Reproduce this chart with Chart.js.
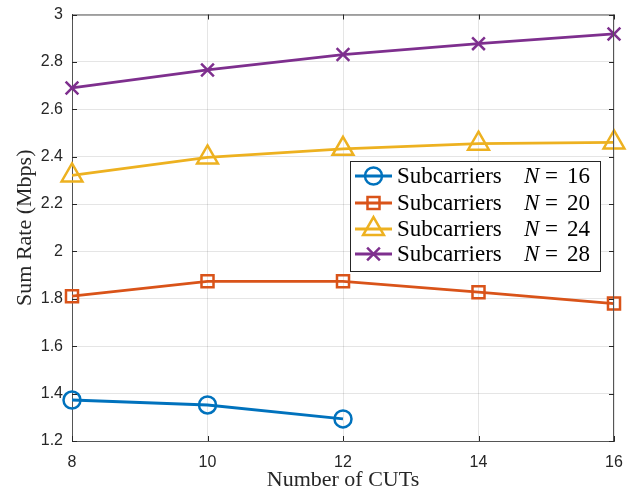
<!DOCTYPE html>
<html>
<head>
<meta charset="utf-8">
<script src="https://cdn.jsdelivr.net/npm/chart.js@4/dist/chart.umd.min.js"></script>
<style>
  html, body { margin: 0; padding: 0; background: #fff; }
  #wrap { width: 634px; height: 491px; }
</style>
</head>
<body>
<div id="wrap"><canvas id="c" width="634" height="491"></canvas></div>
<script>
// data
const cuts = [8, 10, 12, 14, 16];
const subcarriers = [16, 20, 24, 28];
const rateN16 = [1.373, 1.352, 1.293];
const rateN20 = [1.811, 1.874, 1.874, 1.828, 1.780];
const rateN24 = [2.321, 2.397, 2.433, 2.455, 2.460];
const rateN28 = [2.690, 2.766, 2.831, 2.877, 2.918];
const yTicks = [1.2, 1.4, 1.6, 1.8, 2, 2.2, 2.4, 2.6, 2.8, 3];

const colors = ['#0072BD', '#D95319', '#EDB120', '#7E2F8E'];
const styles = ['circle', 'rect', 'triangle', 'crossRot'];
const radii = [8.5, 8.5, 12, 9];
const rates = [rateN16, rateN20, rateN24, rateN28];

const axisColor = '#262626';
const boxColor = '#555';

const datasets = rates.map((vals, i) => ({
  label: 'Subcarriers N = ' + subcarriers[i],
  data: vals.map((v, j) => ({ x: cuts[j], y: v })),
  borderColor: colors[i],
  borderWidth: 2.8,
  pointStyle: styles[i],
  pointRadius: radii[i],
  pointHoverRadius: radii[i],
  pointBorderColor: colors[i],
  pointBackgroundColor: 'rgba(0,0,0,0)',
  pointBorderWidth: 2.5,
  tension: 0,
  clip: false
}));

// box, inward ticks and the MATLAB-like legend
const matlabFrame = {
  id: 'matlabFrame',
  afterDatasetsDraw(chart) {
    const { ctx, chartArea: a, scales } = chart;
    ctx.save();
    ctx.strokeStyle = boxColor;
    ctx.lineWidth = 1;
    ctx.beginPath();
    ctx.moveTo(a.left, a.top + 0.5); ctx.lineTo(a.right, a.top + 0.5);
    ctx.moveTo(a.right - 0.5, a.top); ctx.lineTo(a.right - 0.5, a.bottom);
    ctx.stroke();
    ctx.strokeStyle = axisColor;
    ctx.beginPath();
    const tl = 5;
    cuts.forEach(v => {
      const px = Math.round(scales.x.getPixelForValue(v)) + 0.5;
      ctx.moveTo(px, a.bottom); ctx.lineTo(px, a.bottom - tl);
      ctx.moveTo(px, a.top); ctx.lineTo(px, a.top + tl);
    });
    yTicks.forEach(v => {
      const py = Math.round(scales.y.getPixelForValue(v)) + 0.5;
      ctx.moveTo(a.left, py); ctx.lineTo(a.left + tl, py);
      ctx.moveTo(a.right, py); ctx.lineTo(a.right - tl, py);
    });
    ctx.stroke();

    // legend
    const bx = 350, by = 161, bw = 250, bh = 110;
    ctx.fillStyle = '#fff';
    ctx.fillRect(bx, by, bw, bh);
    ctx.strokeStyle = axisColor;
    ctx.strokeRect(bx + 0.5, by + 0.5, bw, bh);
    const rowY = [176, 203, 229, 254];
    chart.data.datasets.forEach((ds, i) => {
      const y = rowY[i];
      ctx.strokeStyle = ds.borderColor;
      ctx.lineWidth = 2.8;
      ctx.beginPath();
      ctx.moveTo(355, y); ctx.lineTo(392, y);
      ctx.stroke();
      ctx.lineWidth = 2.5;
      ctx.fillStyle = 'rgba(0,0,0,0)';
      Chart.helpers.drawPoint(ctx, { pointStyle: ds.pointStyle, radius: ds.pointRadius, rotation: 0, borderWidth: 2.5 }, 373.5, y);
      ctx.fillStyle = '#000';
      ctx.textBaseline = 'middle';
      ctx.textAlign = 'left';
      ctx.font = '23px "Liberation Serif"';
      ctx.fillText('Subcarriers', 397, y + 1);
      ctx.font = 'italic 23px "Liberation Serif"';
      ctx.fillText('N', 524, y + 1);
      ctx.font = '23px "Liberation Serif"';
      ctx.fillText('=', 545, y + 1);
      ctx.fillText(String(subcarriers[i]), 567, y + 1);
    });
    ctx.restore();
  }
};

new Chart(document.getElementById('c'), {
  type: 'line',
  data: { datasets },
  options: {
    responsive: false,
    animation: false,
    layout: { padding: { top: 13, right: 20, left: 0, bottom: 0 } },
    plugins: { legend: { display: false }, tooltip: { enabled: false } },
    scales: {
      x: {
        type: 'linear',
        min: 8, max: 16,
        afterFit(s) { s.height = 50; s.paddingLeft = 0; s.paddingRight = 0; },
        border: { display: true, color: boxColor, width: 1 },
        grid: { color: 'rgba(38,38,38,0.12)', drawTicks: false },
        ticks: {
          stepSize: 2,
          padding: 12,
          color: axisColor,
          font: { family: '"Liberation Sans", Arial', size: 16 },
          callback: v => String(v)
        },
        title: {
          display: true,
          text: 'Number of CUTs',
          color: '#262626',
          font: { family: '"Liberation Serif"', size: 22, lineHeight: 1.0 },
          padding: { top: 0, bottom: 0 }
        }
      },
      y: {
        min: 1.2, max: 3,
        afterFit(s) { s.width = 72; s.paddingTop = 0; s.paddingBottom = 0; },
        afterBuildTicks(s) { s.ticks = yTicks.map(v => ({ value: v })); },
        border: { display: true, color: boxColor, width: 1 },
        grid: { color: 'rgba(38,38,38,0.12)', drawTicks: false },
        ticks: {
          padding: 9,
          color: axisColor,
          font: { family: '"Liberation Sans", Arial', size: 16 },
          callback: v => String(+(+v).toFixed(1))
        },
        title: {
          display: true,
          text: 'Sum Rate (Mbps)',
          color: '#262626',
          font: { family: '"Liberation Serif"', size: 22 },
          padding: { top: 12, bottom: 0 }
        }
      }
    }
  },
  plugins: [matlabFrame]
});
</script>
</body>
</html>
